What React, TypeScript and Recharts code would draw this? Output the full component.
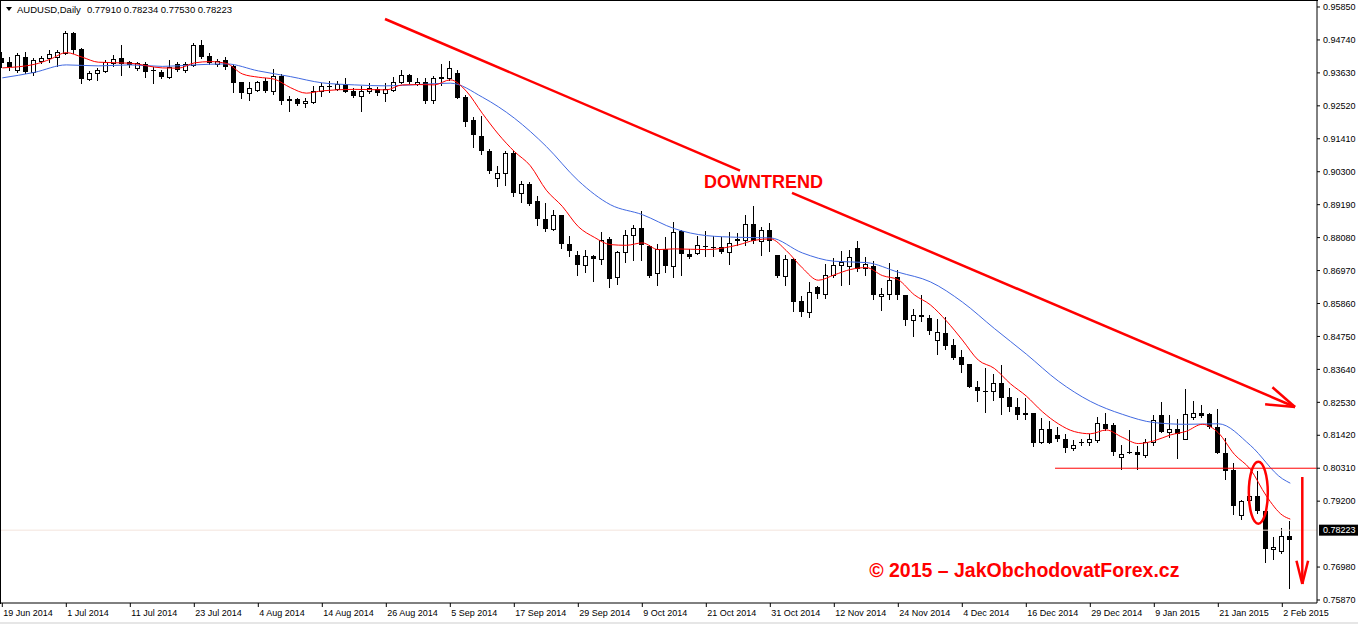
import {
  ComposedChart,
  Bar,
  Line,
  XAxis,
  YAxis,
  ReferenceLine,
  ReferenceDot,
} from "recharts";

// AUDUSD daily candles, 19 Jun 2014 .. 3 Feb 2015
const opens = [
  0.94135, 0.94, 0.93731, 0.94168, 0.93664, 0.94034, 0.94135, 0.94168, 0.94303, 0.94975,
  0.94437, 0.93428, 0.9363, 0.93697, 0.93966, 0.94135, 0.94, 0.93798, 0.93933, 0.93731,
  0.93664, 0.93496, 0.93933, 0.93731, 0.93899, 0.94572, 0.94202, 0.93933, 0.94067, 0.93866,
  0.93317, 0.92947, 0.93058, 0.93361, 0.93035, 0.93529, 0.92755, 0.92755, 0.92611, 0.92665,
  0.93025, 0.93203, 0.93082, 0.9325, 0.93025, 0.92866, 0.93025, 0.93082, 0.92967, 0.93058,
  0.93337, 0.93563, 0.9325, 0.93317, 0.92712, 0.93485, 0.93472, 0.9362, 0.92833, 0.92049,
  0.91511, 0.91006, 0.90088, 0.90256, 0.90929, 0.89584, 0.89896, 0.89325, 0.88719, 0.88373,
  0.88854, 0.87878, 0.87508, 0.87148, 0.87451, 0.87363, 0.88046, 0.86758, 0.87599, 0.88181,
  0.88406, 0.87787, 0.86893, 0.877, 0.87115, 0.88292, 0.87532, 0.87565, 0.87811, 0.87777,
  0.87767, 0.87599, 0.87989, 0.87989, 0.88551, 0.87956, 0.88349, 0.87508, 0.86778, 0.87374,
  0.85961, 0.85581, 0.86422, 0.86186, 0.86812, 0.87148, 0.87138, 0.87734, 0.87061, 0.87115,
  0.86106, 0.86196, 0.86758, 0.86163, 0.85298, 0.85456, 0.85379, 0.84626, 0.84874, 0.84447,
  0.84054, 0.83808, 0.83045, 0.82924, 0.8291, 0.83169, 0.82708, 0.82372, 0.82184, 0.8216,
  0.81195, 0.81622, 0.8142, 0.81309, 0.81006, 0.81195, 0.81195, 0.81262, 0.8179, 0.81756,
  0.80704, 0.80858, 0.80858, 0.80747, 0.81195, 0.82093, 0.81545, 0.81645, 0.81309, 0.82049,
  0.82184, 0.82126, 0.81713, 0.80838, 0.80243, 0.78739, 0.79234, 0.79358, 0.78853, 0.77596,
  0.77528, 0.78033,
];
const highs = [
  0.94336, 0.94168, 0.94303, 0.94336, 0.94135, 0.94202, 0.94404, 0.94404, 0.95043, 0.95009,
  0.94471, 0.93697, 0.93798, 0.94067, 0.94235, 0.94572, 0.94034, 0.94, 0.94, 0.93832,
  0.93731, 0.94067, 0.94, 0.94, 0.94639, 0.9474, 0.94303, 0.94091, 0.94158, 0.93899,
  0.93337, 0.93337, 0.93361, 0.93452, 0.93754, 0.93596, 0.92856, 0.92799, 0.92779, 0.93193,
  0.93284, 0.93361, 0.93361, 0.93452, 0.93115, 0.93193, 0.93284, 0.93149, 0.93284, 0.93506,
  0.93731, 0.93596, 0.93452, 0.93452, 0.93519, 0.93923, 0.94034, 0.93731, 0.9289, 0.9216,
  0.92194, 0.91074, 0.90502, 0.90983, 0.90983, 0.89974, 0.89954, 0.89469, 0.89247, 0.88998,
  0.88854, 0.88147, 0.87643, 0.87676, 0.87485, 0.88272, 0.8809, 0.87619, 0.88349, 0.88517,
  0.88988, 0.87845, 0.87878, 0.88104, 0.88608, 0.88326, 0.877, 0.88124, 0.88292, 0.88124,
  0.88104, 0.88258, 0.88238, 0.8883, 0.89133, 0.8844, 0.88574, 0.87508, 0.87508, 0.87397,
  0.86106, 0.86576, 0.86465, 0.87205, 0.87397, 0.87643, 0.87653, 0.87979, 0.87431, 0.87283,
  0.86388, 0.87229, 0.8698, 0.86163, 0.85658, 0.86163, 0.85467, 0.85322, 0.85413, 0.84673,
  0.84279, 0.83808, 0.83246, 0.83697, 0.83472, 0.83775, 0.83024, 0.82665, 0.82688, 0.82184,
  0.82015, 0.81901, 0.81713, 0.81454, 0.81252, 0.81309, 0.81454, 0.82036, 0.8216, 0.81847,
  0.81084, 0.81588, 0.8106, 0.81285, 0.82093, 0.82553, 0.82093, 0.81982, 0.82967, 0.82574,
  0.82429, 0.82184, 0.82318, 0.81343, 0.80502, 0.79244, 0.79358, 0.80219, 0.78874, 0.77979,
  0.78292, 0.78537,
];
const lows = [
  0.93832, 0.93731, 0.93664, 0.9363, 0.93563, 0.93966, 0.94, 0.93866, 0.94269, 0.94303,
  0.93294, 0.93395, 0.93395, 0.93664, 0.93866, 0.93563, 0.93832, 0.93731, 0.93496, 0.93294,
  0.93462, 0.93462, 0.93697, 0.93664, 0.93866, 0.94135, 0.93933, 0.93876, 0.93754, 0.93001,
  0.92779, 0.92722, 0.93035, 0.93001, 0.92924, 0.92577, 0.92362, 0.92554, 0.92476, 0.92611,
  0.92856, 0.93001, 0.93058, 0.92981, 0.92833, 0.92352, 0.92947, 0.9289, 0.92698, 0.93035,
  0.93284, 0.93284, 0.93226, 0.92611, 0.92611, 0.93226, 0.93395, 0.92779, 0.91857, 0.91117,
  0.90895, 0.90256, 0.89806, 0.89863, 0.89469, 0.89267, 0.8919, 0.88494, 0.88292, 0.88326,
  0.87734, 0.87451, 0.86812, 0.86926, 0.8661, 0.87205, 0.86408, 0.86523, 0.87263, 0.8734,
  0.8734, 0.86758, 0.86499, 0.86913, 0.86758, 0.86835, 0.87397, 0.87542, 0.87451, 0.87451,
  0.87565, 0.87205, 0.87845, 0.87845, 0.87902, 0.87508, 0.87619, 0.86758, 0.86499, 0.85601,
  0.85433, 0.85413, 0.86052, 0.86052, 0.86758, 0.86476, 0.86533, 0.86947, 0.86835, 0.86018,
  0.85635, 0.86018, 0.86018, 0.8513, 0.8476, 0.85265, 0.84817, 0.84145, 0.84313, 0.8399,
  0.83549, 0.83035, 0.82574, 0.82204, 0.82607, 0.82126, 0.82237, 0.81982, 0.81982, 0.8106,
  0.81174, 0.8117, 0.81228, 0.80872, 0.80926, 0.81084, 0.81094, 0.81195, 0.81598, 0.80747,
  0.803, 0.8081, 0.803, 0.80704, 0.81084, 0.8152, 0.81376, 0.8067, 0.81285, 0.81982,
  0.82049, 0.81679, 0.80815, 0.7994, 0.78763, 0.78595, 0.7921, 0.78796, 0.77158, 0.77249,
  0.77451, 0.76264,
];
const closes = [
  0.93966, 0.93832, 0.94235, 0.93664, 0.94067, 0.94135, 0.94269, 0.94336, 0.94975, 0.94404,
  0.93428, 0.9363, 0.93731, 0.94, 0.94101, 0.93933, 0.93899, 0.93966, 0.93664, 0.93697,
  0.93496, 0.93832, 0.93731, 0.93933, 0.94572, 0.94168, 0.93966, 0.94044, 0.93822, 0.93304,
  0.92947, 0.93115, 0.93337, 0.93035, 0.93529, 0.92698, 0.92698, 0.92587, 0.92688, 0.93035,
  0.93193, 0.93169, 0.9326, 0.93001, 0.92856, 0.93035, 0.93115, 0.92967, 0.93082, 0.93337,
  0.93563, 0.93317, 0.93317, 0.92698, 0.93452, 0.93428, 0.93788, 0.92799, 0.91992, 0.91521,
  0.90983, 0.90334, 0.90256, 0.90929, 0.89584, 0.89886, 0.89224, 0.88709, 0.88383, 0.88854,
  0.87868, 0.87619, 0.87148, 0.87475, 0.87374, 0.88013, 0.86691, 0.87599, 0.88157, 0.88406,
  0.87821, 0.86802, 0.877, 0.87115, 0.88272, 0.87532, 0.87417, 0.87834, 0.87754, 0.87744,
  0.87599, 0.87902, 0.88036, 0.88551, 0.87956, 0.88349, 0.87956, 0.86778, 0.87374, 0.85904,
  0.85581, 0.86254, 0.86186, 0.86835, 0.87148, 0.87249, 0.87431, 0.87037, 0.87195, 0.86163,
  0.86196, 0.86667, 0.86139, 0.85298, 0.85456, 0.85399, 0.84928, 0.84908, 0.84424, 0.8401,
  0.83775, 0.83045, 0.8291, 0.829, 0.83169, 0.82665, 0.82372, 0.82103, 0.82103, 0.81174,
  0.81622, 0.81174, 0.81309, 0.81006, 0.81084, 0.81151, 0.81285, 0.81824, 0.81622, 0.80858,
  0.80804, 0.80815, 0.80747, 0.81208, 0.81935, 0.81531, 0.81645, 0.81454, 0.82126, 0.8216,
  0.82069, 0.81713, 0.80838, 0.80219, 0.79042, 0.7921, 0.79358, 0.78853, 0.77585, 0.77643,
  0.78013, 0.77898,
];

// moving averages, [bar index, value]
const fastMa: [number, number][] = [
  [0, 0.93798], [4, 0.93916], [6, 0.94091], [8, 0.94313], [10, 0.94158], [12, 0.9399],
  [16, 0.93956], [20, 0.93798], [22, 0.93788], [24, 0.93966], [26, 0.9401], [28, 0.9395],
  [30, 0.93596], [32, 0.93485], [34, 0.93418], [36, 0.93136], [38, 0.92947], [40, 0.93025],
  [44, 0.93075], [48, 0.93058], [50, 0.93226], [52, 0.93237], [54, 0.93226], [56, 0.93395],
  [58, 0.93015], [60, 0.92268], [62, 0.91568], [64, 0.90983], [66, 0.90502], [68, 0.89678],
  [70, 0.89133], [72, 0.8845], [74, 0.8809], [76, 0.87845], [78, 0.87821], [80, 0.87902],
  [82, 0.87676], [84, 0.877], [88, 0.87676], [92, 0.87835], [94, 0.87989], [96, 0.88036],
  [98, 0.87643], [100, 0.87061], [102, 0.86644], [104, 0.86825], [106, 0.87004], [108, 0.87071],
  [110, 0.86802], [112, 0.86657], [114, 0.86153], [116, 0.85816], [118, 0.85278], [120, 0.84632],
  [122, 0.83953], [124, 0.83674], [126, 0.83159], [128, 0.82742], [130, 0.82217], [132, 0.81807],
  [134, 0.81545], [136, 0.81471], [138, 0.81598], [140, 0.81353], [142, 0.81141], [144, 0.81235],
  [146, 0.8143], [148, 0.81555], [150, 0.8179], [152, 0.81504], [154, 0.80781], [156, 0.80276],
  [158, 0.79378], [160, 0.78729], [161, 0.78595],
];
const slowMa: [number, number][] = [
  [0, 0.93462], [4, 0.93647], [8, 0.93899], [12, 0.93866], [16, 0.93899], [20, 0.93849],
  [24, 0.93899], [28, 0.93933], [32, 0.93697], [36, 0.93506], [40, 0.93294], [44, 0.93226],
  [48, 0.93193], [52, 0.93237], [56, 0.93284], [60, 0.92813], [64, 0.92106], [68, 0.91151],
  [72, 0.89997], [76, 0.8919], [80, 0.88854], [84, 0.88383], [88, 0.88147], [92, 0.8809],
  [96, 0.8807], [100, 0.87565], [104, 0.87283], [108, 0.87239], [112, 0.86913], [116, 0.8659],
  [120, 0.85911], [124, 0.85019], [128, 0.84155], [132, 0.83247], [136, 0.82564], [140, 0.82127],
  [144, 0.81847], [148, 0.8179], [152, 0.81807], [156, 0.81084], [160, 0.79957], [161, 0.79806],
];

// one label every 8 bars
const dateLabels = [
  "19 Jun 2014", "1 Jul 2014", "11 Jul 2014", "23 Jul 2014", "4 Aug 2014", "14 Aug 2014",
  "26 Aug 2014", "5 Sep 2014", "17 Sep 2014", "29 Sep 2014", "9 Oct 2014", "21 Oct 2014",
  "31 Oct 2014", "12 Nov 2014", "24 Nov 2014", "4 Dec 2014", "16 Dec 2014", "29 Dec 2014",
  "9 Jan 2015", "21 Jan 2015", "2 Feb 2015",
];
const dateTicks = dateLabels.map((_, i) => i * 8);

const priceTicks = [
  0.9585, 0.9474, 0.9363, 0.9252, 0.9141, 0.903, 0.8919, 0.8808, 0.8697, 0.8586, 0.8475,
  0.8364, 0.8253, 0.8142, 0.8031, 0.792, 0.7698, 0.7587,
];

const title = "AUDUSD,Daily";
const titlePrices = "0.77910 0.78234 0.77530 0.78223";
const bidPrice = 0.78223;
const supportPrice = 0.8031;

const rows: any[] = opens.map((o, i) => ({
  i,
  o,
  h: highs[i],
  l: lows[i],
  c: closes[i],
  range: [lows[i], highs[i]],
}));
fastMa.forEach(([i, v]) => (rows[i].fast = v));
slowMa.forEach(([i, v]) => (rows[i].slow = v));

const FONT = "'Liberation Sans', Arial, sans-serif";
const RED = "#ff0000";

function Candle(props: any) {
  const { x, y, width, height, payload } = props;
  if (!payload || x == null || y == null) return null;
  const { o, h, l, c } = payload;
  const top0 = Math.min(y, y + height);
  const hh = Math.abs(height);
  const cx = Math.floor(x + width / 2);
  const py = (p: number) => (h === l ? top0 : top0 + ((h - p) / (h - l)) * hh);
  const bTop = Math.round(py(Math.max(o, c)));
  const bBot = Math.round(py(Math.min(o, c)));
  const up = c > o;
  return (
    <g shapeRendering="crispEdges">
      <line
        x1={cx + 0.5}
        x2={cx + 0.5}
        y1={Math.round(top0)}
        y2={Math.round(top0 + hh) + 1}
        stroke="#000"
      />
      {up ? (
        <rect
          x={cx - 1.5}
          y={bTop + 0.5}
          width={4}
          height={Math.max(bBot - bTop, 1)}
          fill="#fff"
          stroke="#000"
        />
      ) : (
        <rect x={cx - 2} y={bTop} width={5} height={Math.max(bBot - bTop, 1)} fill="#000" />
      )}
    </g>
  );
}

// straight line with an open arrow head at (x2, y2)
function arrowShape(len: number, spreadDeg: number, width: number) {
  return (props: any) => {
    const { x1, y1, x2, y2 } = props;
    const a = Math.atan2(y2 - y1, x2 - x1);
    const s = (spreadDeg * Math.PI) / 180;
    return (
      <g stroke={RED} strokeWidth={width} fill="none">
        <line x1={x1} y1={y1} x2={x2} y2={y2} />
        <line x1={x2 - len * Math.cos(a - s)} y1={y2 - len * Math.sin(a - s)} x2={x2} y2={y2} />
        <line x1={x2 - len * Math.cos(a + s)} y1={y2 - len * Math.sin(a + s)} x2={x2} y2={y2} />
      </g>
    );
  };
}

function plainLine(props: any) {
  const { x1, y1, x2, y2 } = props;
  return <line x1={x1} y1={y1} x2={x2} y2={y2} stroke={RED} strokeWidth={2.5} />;
}

function DateTick(props: any) {
  const { x, y, payload } = props;
  return (
    <text x={x + 1} y={y} dy="0.71em" fontSize={9} fontFamily={FONT} fill="#000">
      {dateLabels[Math.round(payload.value / 8)]}
    </text>
  );
}

export default function App() {
  return (
    <div style={{ position: "relative", width: 1358, height: 624, background: "#fff" }}>
      <style>{"body{margin:0}"}</style>
      <ComposedChart
        width={1358}
        height={624}
        data={rows}
        margin={{ top: 1, right: 0, bottom: 0, left: 1 }}
      >
        <XAxis
          type="number"
          dataKey="i"
          domain={[-0.1625, 164.3375]}
          allowDataOverflow
          ticks={dateTicks}
          interval={0}
          height={21}
          tickSize={4}
          tickMargin={3}
          tick={<DateTick />}
          axisLine={{ stroke: "#000" }}
          tickLine={{ stroke: "#000" }}
        />
        <YAxis
          orientation="right"
          type="number"
          domain={[0.75769, 0.96052]}
          allowDataOverflow
          ticks={priceTicks}
          interval={0}
          width={41}
          tickSize={3}
          tickMargin={3}
          tickFormatter={(v: number) => v.toFixed(5)}
          tick={{ fill: "#000", fontSize: 9, fontFamily: FONT }}
          axisLine={{ stroke: "#000" }}
          tickLine={{ stroke: "#000" }}
        />

        <ReferenceLine y={bidPrice} stroke="#f3e4dd" />

        <Bar dataKey="range" barSize={5} shape={<Candle />} isAnimationActive={false} />
        <Line
          type="monotone"
          dataKey="slow"
          stroke="#4169e1"
          strokeWidth={1}
          dot={false}
          connectNulls
          isAnimationActive={false}
        />
        <Line
          type="monotone"
          dataKey="fast"
          stroke={RED}
          strokeWidth={1}
          dot={false}
          connectNulls
          isAnimationActive={false}
        />

        {/* support line */}
        <ReferenceLine
          segment={[
            { x: 131.59, y: supportPrice },
            { x: 164.3, y: supportPrice },
          ]}
          stroke={RED}
          strokeWidth={1}
        />

        {/* downtrend line, broken where the label sits */}
        <ReferenceLine
          segment={[
            { x: 47.84, y: 0.95446 },
            { x: 92.21, y: 0.90338 },
          ]}
          shape={plainLine}
        />
        <ReferenceLine
          segment={[
            { x: 98.71, y: 0.8959 },
            { x: 161.59, y: 0.82373 },
          ]}
          shape={arrowShape(30, 18, 2.5)}
        />
        <ReferenceDot
          x={95.15}
          y={0.89964}
          shape={(p: any) => (
            <text
              x={p.cx}
              y={p.cy + 6.6}
              textAnchor="middle"
              fontSize={18}
              fontWeight="bold"
              fontFamily={FONT}
              fill={RED}
            >
              DOWNTREND
            </text>
          )}
        />

        {/* circled candle */}
        <ReferenceDot
          x={157}
          y={0.79485}
          shape={(p: any) => (
            <ellipse cx={p.cx} cy={p.cy} rx={9.5} ry={31} fill="none" stroke={RED} strokeWidth={2.5} />
          )}
        />

        {/* down arrow on the right */}
        <ReferenceLine
          segment={[
            { x: 162.5, y: 0.80014 },
            { x: 162.5, y: 0.76409 },
          ]}
          shape={arrowShape(24, 14, 2.5)}
        />

        <ReferenceDot
          x={127.75}
          y={0.76881}
          shape={(p: any) => (
            <text
              x={p.cx}
              y={p.cy + 7}
              textAnchor="middle"
              fontSize={19.5}
              fontWeight="bold"
              fontFamily={FONT}
              fill={RED}
            >
              © 2015 – JakObchodovatForex.cz
            </text>
          )}
        />

        {/* current price box on the axis */}
        <ReferenceDot
          x={164.3}
          y={bidPrice}
          shape={(p: any) => (
            <g>
              <rect x={Math.round(p.cx) + 2} y={p.cy - 5.5} width={40} height={11} fill="#000" />
              <text
                x={Math.round(p.cx) + 6}
                y={p.cy}
                dy="0.355em"
                fontSize={9}
                fontFamily={FONT}
                fill="#fff"
              >
                {bidPrice.toFixed(5)}
              </text>
            </g>
          )}
        />
      </ComposedChart>

      {/* left and top frame */}
      <div
        style={{
          position: "absolute",
          left: 0,
          top: 0,
          width: 1318,
          height: 604,
          borderLeft: "1px solid #000",
          borderTop: "1px solid #000",
          boxSizing: "border-box",
          pointerEvents: "none",
        }}
      />
      {/* window edge strip at the bottom */}
      <div
        style={{
          position: "absolute",
          left: 0,
          top: 622,
          width: 1358,
          height: 2,
          background: "#e6e6e6",
        }}
      />
      <div
        style={{
          position: "absolute",
          left: 6,
          top: 4,
          height: 12,
          display: "flex",
          alignItems: "center",
          fontFamily: FONT,
          fontSize: 9.5,
          lineHeight: "12px",
          color: "#000",
          whiteSpace: "pre",
        }}
      >
        <svg width={8} height={6} style={{ marginRight: 3 }}>
          <polygon points="0,0 6,0 3,4" fill="#000" />
        </svg>
        <span>{title}</span>
        <span style={{ marginLeft: 6 }}>{titlePrices}</span>
      </div>
    </div>
  );
}
